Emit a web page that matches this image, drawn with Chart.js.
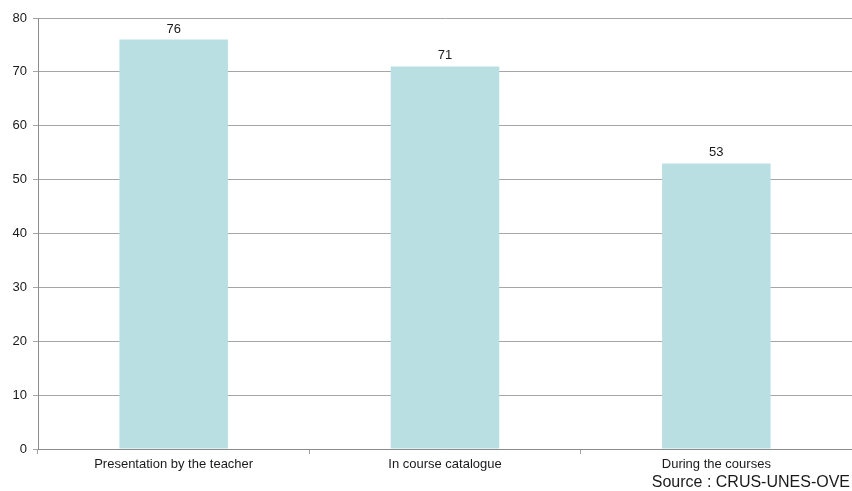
<!DOCTYPE html>
<html>
<head>
<meta charset="utf-8">
<script src="https://cdn.jsdelivr.net/npm/chart.js@4/dist/chart.umd.min.js"></script>
<style>
  html, body { margin: 0; padding: 0; background: #ffffff; }
  #wrap { width: 852px; height: 491px; position: relative; }
</style>
</head>
<body>
<div id="wrap"><canvas id="c" width="852" height="491"></canvas></div>
<script>
const categories = ["Presentation by the teacher", "In course catalogue", "During the courses"];
const values = [76, 71, 53];
const yTicks = [0, 10, 20, 30, 40, 50, 60, 70, 80];
const sourceText = "Source : CRUS-UNES-OVE";

const FONT = "'Liberation Sans', Arial, sans-serif";

// Value labels above each bar
const valueLabels = {
  id: 'valueLabels',
  afterDatasetsDraw(chart) {
    const ctx = chart.ctx;
    const meta = chart.getDatasetMeta(0);
    ctx.save();
    ctx.font = "13px " + FONT;
    ctx.fillStyle = "#1a1a1a";
    ctx.textAlign = "center";
    ctx.textBaseline = "alphabetic";
    meta.data.forEach((bar, i) => {
      ctx.fillText(String(values[i]), bar.x, bar.y - 7);
    });
    ctx.restore();
  }
};

// Source note in the lower right corner
const sourceNote = {
  id: 'sourceNote',
  afterDraw(chart) {
    const ctx = chart.ctx;
    ctx.save();
    ctx.font = "16px " + FONT;
    ctx.fillStyle = "#1a1a1a";
    ctx.textAlign = "right";
    ctx.textBaseline = "alphabetic";
    ctx.fillText(sourceText, 850, 487);
    ctx.restore();
  }
};

new Chart(document.getElementById('c'), {
  type: 'bar',
  data: {
    labels: categories,
    datasets: [{
      data: values,
      backgroundColor: '#B9DFE3',
      borderWidth: 0,
      barPercentage: 0.4,
      categoryPercentage: 1.0
    }]
  },
  options: {
    responsive: false,
    animation: false,
    devicePixelRatio: 1,
    layout: { padding: { top: 18, right: 0, left: 0, bottom: 0 } },
    plugins: {
      legend: { display: false },
      tooltip: { enabled: false }
    },
    scales: {
      x: {
        grid: {
          offset: true,
          drawOnChartArea: false,
          drawTicks: true,
          tickLength: 5,
          color: '#a0a0a0'
        },
        border: { color: '#8c8c8c', width: 1 },
        ticks: {
          font: { family: FONT, size: 13 },
          color: '#1a1a1a',
          padding: 3,
          maxRotation: 0
        },
        afterFit(scale) { scale.height = 42; }
      },
      y: {
        min: 0,
        max: 80,
        afterBuildTicks(scale) { scale.ticks = yTicks.map(v => ({ value: v })); },
        grid: {
          color: '#a6a6a6',
          tickLength: 5,
          lineWidth: 1
        },
        border: { color: '#8c8c8c', width: 1 },
        ticks: {
          font: { family: FONT, size: 13 },
          color: '#1a1a1a',
          padding: 6
        },
        afterFit(scale) { scale.width = 38; }
      }
    }
  },
  plugins: [valueLabels, sourceNote]
});
</script>
</body>
</html>
